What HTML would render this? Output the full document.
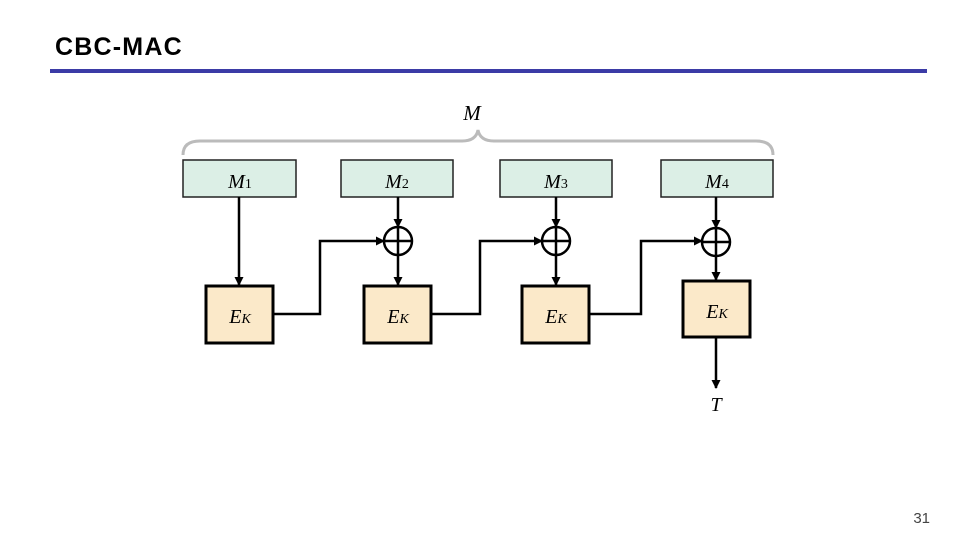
<!DOCTYPE html>
<html><head><style>
body{margin:0;background:#fff;}
svg{display:block}
</style></head><body>
<svg width="960" height="540" xmlns="http://www.w3.org/2000/svg">
<defs><marker id="a" markerWidth="9" markerHeight="9" refX="8" refY="4.5" orient="auto" markerUnits="userSpaceOnUse"><path d="M0,0 L9,4.5 L0,9 z" fill="#000"/></marker></defs>
<text x="55" y="55" font-family="Liberation Sans, sans-serif" font-weight="bold" font-size="25" letter-spacing="1.2">CBC-MAC</text>
<rect x="50" y="69" width="877" height="4" fill="#3b3ba6"/>
<text x="472" y="120" font-family="Liberation Serif, serif" font-style="italic" font-size="21" text-anchor="middle">M</text>
<path d="M183,155 Q183,141 200,141 L462,141 Q476,141 478,130 Q480,141 494,141 L756,141 Q773,141 773,155" fill="none" stroke="#bbb" stroke-width="3"/>
<g fill="#dcefe6" stroke="#222" stroke-width="1.5">
<rect x="183" y="160" width="113" height="37"/><rect x="341" y="160" width="112" height="37"/>
<rect x="500" y="160" width="112" height="37"/><rect x="661" y="160" width="112" height="37"/>
</g>
<g font-family="Liberation Serif, serif" font-size="20" text-anchor="middle">
<text x="240" y="188"><tspan font-style="italic">M</tspan><tspan font-size="14">1</tspan></text>
<text x="397" y="188"><tspan font-style="italic">M</tspan><tspan font-size="14">2</tspan></text>
<text x="556" y="188"><tspan font-style="italic">M</tspan><tspan font-size="14">3</tspan></text>
<text x="717" y="188"><tspan font-style="italic">M</tspan><tspan font-size="14">4</tspan></text>
</g>
<g fill="#fbe9c9" stroke="#000" stroke-width="3">
<rect x="206" y="286" width="67" height="57"/><rect x="364" y="286" width="67" height="57"/>
<rect x="522" y="286" width="67" height="57"/><rect x="683" y="281" width="67" height="56"/>
</g>
<g font-family="Liberation Serif, serif" font-size="20" font-style="italic" text-anchor="middle">
<text x="240" y="323">E<tspan font-size="14">K</tspan></text>
<text x="398" y="323">E<tspan font-size="14">K</tspan></text>
<text x="556" y="323">E<tspan font-size="14">K</tspan></text>
<text x="717" y="318">E<tspan font-size="14">K</tspan></text>
<text x="716" y="411">T</text>
</g>
<g stroke="#000" stroke-width="2.5" fill="none">
<line x1="239" y1="197" x2="239" y2="285" marker-end="url(#a)"/>
<line x1="398" y1="197" x2="398" y2="227" marker-end="url(#a)"/>
<line x1="398" y1="227" x2="398" y2="285" marker-end="url(#a)"/>
<line x1="556" y1="197" x2="556" y2="227" marker-end="url(#a)"/>
<line x1="556" y1="227" x2="556" y2="285" marker-end="url(#a)"/>
<line x1="716" y1="197" x2="716" y2="228" marker-end="url(#a)"/>
<line x1="716" y1="228" x2="716" y2="280" marker-end="url(#a)"/>
<line x1="716" y1="338" x2="716" y2="388" marker-end="url(#a)"/>
<polyline points="273,314 320,314 320,241 384,241" marker-end="url(#a)"/>
<polyline points="431,314 480,314 480,241 542,241" marker-end="url(#a)"/>
<polyline points="589,314 641,314 641,241 702,241" marker-end="url(#a)"/>
<circle cx="398" cy="241" r="14"/><circle cx="556" cy="241" r="14"/><circle cx="716" cy="242" r="14"/>
<line x1="384" y1="241" x2="412" y2="241"/><line x1="542" y1="241" x2="570" y2="241"/><line x1="702" y1="242" x2="730" y2="242"/>
</g>
<text x="930" y="523" font-family="Liberation Sans, sans-serif" font-size="15" fill="#444" text-anchor="end">31</text>
</svg>
</body></html>
